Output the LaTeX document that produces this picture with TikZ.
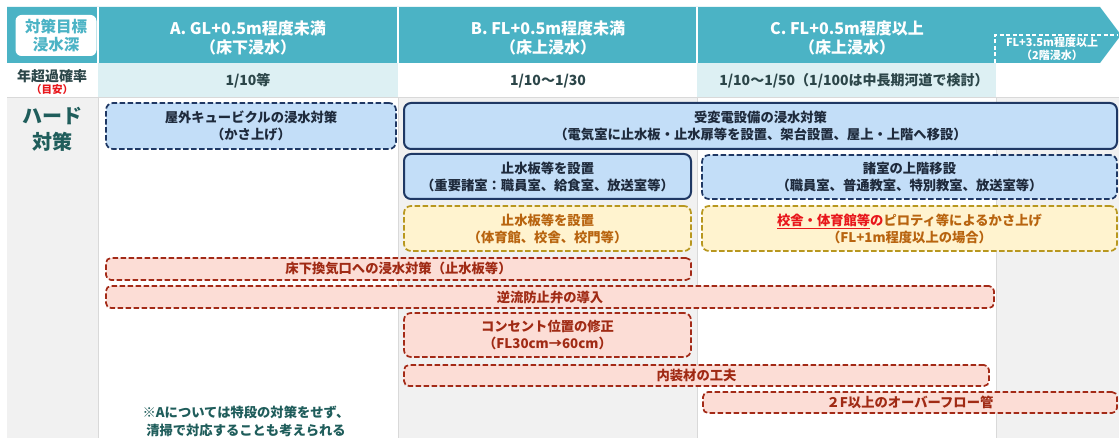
\documentclass[tikz,border=0pt]{standalone}
\usepackage{fontspec}
\setmainfont{Noto Sans CJK JP}
\definecolor{hdr}{HTML}{4BB3C5}
\definecolor{lcyan}{HTML}{DDF0F3}
\definecolor{lgray}{HTML}{F1F1F1}
\definecolor{gline}{HTML}{D9D9D9}
\definecolor{navy}{HTML}{1F3864}
\definecolor{bfill}{HTML}{C3DEF8}
\definecolor{btext}{HTML}{1E2A3C}
\definecolor{yfill}{HTML}{FFF3CF}
\definecolor{ydraw}{HTML}{B8971F}
\definecolor{ytext}{HTML}{B8640F}
\definecolor{pfill}{HTML}{FCDDD6}
\definecolor{pdraw}{HTML}{A32A17}
\definecolor{ptext}{HTML}{A02A14}
\definecolor{tealtx}{HTML}{1F5D5B}
\definecolor{slate}{HTML}{2C4649}
\definecolor{redt}{HTML}{E8161B}
\tikzset{
  bx/.style={rounded corners=7pt, line width=1.7pt, align=center, inner sep=0pt,
    font=\bfseries\fontsize{13.3}{17}\selectfont},
  dsh/.style={dash pattern=on 5.5pt off 2.5pt},
  bsolid/.style={bx, draw=navy, fill=bfill, text=btext, line width=2pt},
  bdash/.style={bx, dsh, draw=navy, fill=bfill, text=btext},
  ydash/.style={bx, dsh, draw=ydraw, fill=yfill, text=ytext},
  pdash/.style={bx, dsh, draw=pdraw, fill=pfill, text=ptext},
  slim/.style={rounded corners=5pt},
  htext/.style={text=white, align=center, inner sep=0pt,
    font=\bfseries\fontsize{16}{19}\selectfont},
  rowt/.style={text=slate, inner sep=0pt, font=\bfseries\fontsize{14}{16}\selectfont},
  colline/.style={gline, line width=0.8pt},
}
\begin{document}
\begin{tikzpicture}[x=1pt,y=-1pt]
\useasboundingbox (0,0) rectangle (1119,438);
\fill[white] (0,0) rectangle (1119,438);
% header band
\fill[hdr] (7,7) -- (1100,7) -- (1121,35) -- (1100,63) -- (7,63) -- cycle;
\draw[white, line width=1.6pt] (98,7) -- (98,63);
\draw[white, line width=1.6pt] (398,7) -- (398,63);
\draw[white, line width=1.6pt] (697,7) -- (697,63);
\draw[white, line width=1.3pt, dash pattern=on 4pt off 2.5pt] (995,63) -- (995,35) -- (1117,35);
\node[fill=white, rounded corners=6pt, minimum width=81pt, minimum height=41pt,
  text=hdr, align=center, inner sep=0pt, font=\bfseries\fontsize{15.5}{18}\selectfont]
  (tgt) at (56,35.5) {対策目標\\浸水深};
\node[htext] (ha) at (248,37.5) {A. GL+0.5m程度未満\\（床下浸水）};
\node[htext] (hb) at (548,37.5) {B. FL+0.5m程度未満\\（床上浸水）};
\node[htext] (hc) at (847,37.5) {C. FL+0.5m程度以上\\（床上浸水）};
\node[text=white, align=center, inner sep=0pt, font=\bfseries\fontsize{11}{13.5}\selectfont]
  (hd) at (1052,49) {FL+3.5m程度以上\\（2階浸水）};
% row 2
\fill[lcyan] (98,63) rectangle (398,97);
\fill[lcyan] (697,63) rectangle (996,97);
\node[text=slate, inner sep=0pt, font=\bfseries\fontsize{14}{16}\selectfont] (yr) at (52,76) {年超過確率};
\node[text=redt, inner sep=0pt, font=\bfseries\fontsize{10.5}{12}\selectfont] (ya) at (52,90) {（目安）};
\node[rowt] (ra) at (248,81) {1/10等};
\node[rowt] (rb) at (548,81) {1/10～1/30};
\node[rowt] (rc) at (854,81) {1/10～1/50（1/100は中長期河道で検討）};
% body columns
\fill[lgray] (7,97) rectangle (98,438);
\fill[lgray] (398,97) rectangle (697,438);
\fill[lgray] (996,97) rectangle (1119,438);
\draw[colline] (7,97) -- (1119,97);
\draw[colline] (98,97) -- (98,438);
\draw[colline] (398,97) -- (398,438);
\draw[colline] (697,97) -- (697,438);
\draw[colline] (996,97) -- (996,438);
\node[text=tealtx, align=center, inner sep=0pt, font=\bfseries\fontsize{20}{26}\selectfont]
  (hard) at (52,129) {ハード\\対策};
% boxes
\node[bdash, minimum width=290pt, minimum height=46pt] (cub) at (251,126)
  {屋外キュービクルの浸水対策\\（かさ上げ）};
\node[bsolid, minimum width=713pt, minimum height=46pt] (jhd) at (760.5,126)
  {受変電設備の浸水対策\\（電気室に止水板・止水扉等を設置、架台設置、屋上・上階へ移設）};
\node[bsolid, minimum width=287pt, minimum height=45pt] (sb1) at (547.5,176.5)
  {止水板等を設置\\（重要諸室：職員室、給食室、放送室等）};
\node[bdash, minimum width=415pt, minimum height=44pt] (jk) at (909.5,177)
  {諸室の上階移設\\（職員室、普通教室、特別教室、放送室等）};
\node[ydash, minimum width=287pt, minimum height=45pt] (sb2) at (547.5,228.5)
  {止水板等を設置\\（体育館、校舎、校門等）};
\node[ydash, minimum width=415pt, minimum height=45pt] (pil) at (909.5,228.5)
  {{\color{redt}\underline{校舎・体育館等}の}ピロティ等によるかさ上げ\\（FL+1m程度以上の場合）};
\node[pdash, slim, minimum width=585pt, minimum height=22pt] (yuka) at (398.5,269)
  {床下換気口への浸水対策（止水板等）};
\node[pdash, slim, minimum width=888pt, minimum height=22pt] (gyak) at (550,297)
  {逆流防止弁の導入};
\node[pdash, minimum width=287pt, minimum height=44pt] (conc) at (547.5,335)
  {コンセント位置の修正\\（FL30cm→60cm）};
\node[pdash, slim, minimum width=585pt, minimum height=21pt] (nai) at (696.5,375.5)
  {内装材の工夫};
\node[pdash, slim, minimum width=414pt, minimum height=21pt] (of) at (910,402.5)
  {２F以上のオーバーフロー管};
% note
\node[text=tealtx, align=center, inner sep=0pt, font=\bfseries\fontsize{13.3}{18}\selectfont]
  (note) at (246,421) {※Aについては特段の対策をせず、\\清掃で対応することも考えられる};
\end{tikzpicture}
\end{document}
